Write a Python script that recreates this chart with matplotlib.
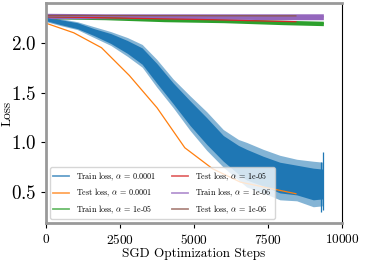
import matplotlib
matplotlib.use("Agg")
import matplotlib.pyplot as plt
import numpy as np

plt.rcParams['font.family'] = 'cmr10'
plt.rcParams['mathtext.fontset'] = 'cm'
plt.rcParams['axes.formatter.use_mathtext'] = True

# train loss, alpha = 0.0001 (noisy band: outer envelope and dense core)
train_steps_a4 = [0, 500, 1060, 1620, 2190, 2750, 3250, 3740, 4300, 4870,
                  5430, 5990, 6500, 6780, 7340, 7900, 8470, 9030, 9370]
train_hi_a4 = [2.29, 2.25, 2.22, 2.17, 2.12, 2.06, 1.99, 1.84, 1.64, 1.47,
               1.31, 1.13, 1.03, 1.00, 0.93, 0.87, 0.83, 0.81, 0.80]
train_lo_a4 = [2.22, 2.18, 2.14, 2.06, 1.98, 1.87, 1.76, 1.56, 1.35, 1.12,
               0.92, 0.75, 0.62, 0.55, 0.49, 0.42, 0.41, 0.35, 0.36]
train_core_hi_a4 = [2.28, 2.24, 2.21, 2.15, 2.10, 2.03, 1.955, 1.80, 1.60, 1.42,
                    1.25, 1.07, 0.97, 0.93, 0.86, 0.80, 0.77, 0.74, 0.73]
train_core_lo_a4 = [2.23, 2.19, 2.15, 2.08, 2.00, 1.90, 1.79, 1.60, 1.39, 1.17,
                    0.98, 0.81, 0.68, 0.62, 0.56, 0.49, 0.47, 0.42, 0.43]
# last steps, which stick out of the band
spike_steps_a4 = [9300, 9368]
spike_lo_a4 = [0.30, 0.316]
spike_hi_a4 = [0.80, 0.905]

# train loss, alpha = 1e-05 and 1e-06
train_steps_flat = [0, 2000, 4000, 6000, 8000, 9370]
train_hi_a5 = [2.29, 2.28, 2.26, 2.25, 2.235, 2.225]
train_lo_a5 = [2.25, 2.24, 2.22, 2.21, 2.19, 2.18]
train_hi_a6 = [2.305, 2.30, 2.30, 2.30, 2.30, 2.30]
train_lo_a6 = [2.25, 2.25, 2.25, 2.245, 2.24, 2.24]

# test loss, evaluated once per epoch
test_steps = [0, 938, 1876, 2814, 3752, 4690, 5628, 6566, 7504, 8442]
test_a4 = [2.205, 2.108, 1.957, 1.677, 1.35, 0.946, 0.734, 0.599, 0.54, 0.482]
test_a5 = [2.27, 2.265, 2.26, 2.255, 2.25, 2.245, 2.24, 2.233, 2.226, 2.22]
test_a6 = [2.283, 2.283, 2.282, 2.282, 2.281, 2.281, 2.28, 2.28, 2.279, 2.279]


def add_train(ax, steps, lo, hi, color, label, core_lo=None, core_hi=None):
    mid = (np.array(lo) + np.array(hi)) / 2
    ax.plot(steps, mid, color=color, lw=0.8, label=label)
    if core_lo is None:
        ax.fill_between(steps, lo, hi, color=color, lw=0)
    else:
        ax.fill_between(steps, lo, hi, color=color, alpha=0.55, lw=0)
        ax.fill_between(steps, core_lo, core_hi, color=color, lw=0)


fig = plt.figure(figsize=(3.65, 2.64), dpi=100)
ax = fig.add_axes([0.126, 0.155, 0.811, 0.834])

add_train(ax, train_steps_a4, train_lo_a4, train_hi_a4, 'C0',
          r'Train loss, $\alpha$ = 0.0001', train_core_lo_a4, train_core_hi_a4)
ax.vlines(spike_steps_a4, spike_lo_a4, spike_hi_a4, color='C0', lw=0.9)
ax.plot(test_steps, test_a4, color='C1', lw=0.9, label=r'Test loss, $\alpha$ = 0.0001')
add_train(ax, train_steps_flat, train_lo_a5, train_hi_a5, 'C2',
          r'Train loss, $\alpha$ = 1e-05')
ax.plot(test_steps, test_a5, color='C3', lw=0.9, label=r'Test loss, $\alpha$ = 1e-05')
add_train(ax, train_steps_flat, train_lo_a6, train_hi_a6, 'C4',
          r'Train loss, $\alpha$ = 1e-06')
ax.plot(test_steps, test_a6, color='C5', lw=0.9, label=r'Test loss, $\alpha$ = 1e-06')

ax.set_xlim(0, 10000)
ax.set_ylim(0.185, 2.41)
ax.set_xticks([0, 2500, 5000, 7500, 10000])
ax.set_yticks([0.5, 1.0, 1.5, 2.0])
ax.tick_params(axis='x', labelsize=9.6, length=3.5, width=0.8)
ax.tick_params(axis='y', labelsize=13.7, length=3.5, width=0.8)
ax.set_xlabel('SGD Optimization Steps', fontsize=9.5, labelpad=1)
ax.set_ylabel('Loss', fontsize=9.5)
ax.yaxis.set_label_coords(-0.11, 0.5)

for side in ['left', 'bottom', 'top']:
    ax.spines[side].set_color('#999999')
    ax.spines[side].set_linewidth(2)
ax.spines['right'].set_color('black')
ax.spines['right'].set_linewidth(0.8)

leg = ax.legend(loc='lower left', ncol=2, fontsize=5.8)
for line in leg.get_lines():
    line.set_linewidth(1.3)
    line.set_alpha(0.7)

fig.savefig('out.png', dpi=100)
